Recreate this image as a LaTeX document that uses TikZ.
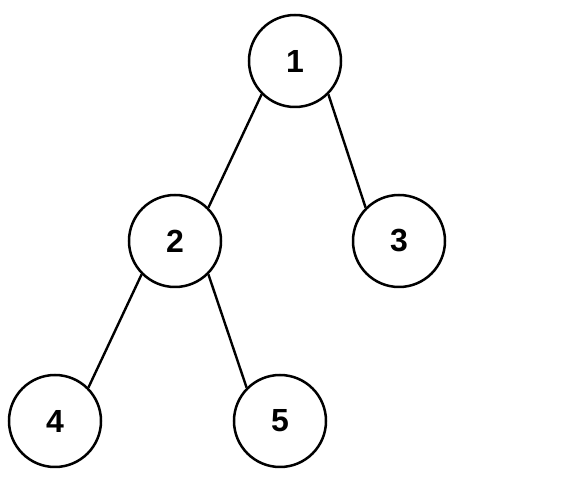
\documentclass[tikz,border=0pt]{standalone}
\usepackage{fontspec}
\setmainfont{Liberation Sans}
\begin{document}
\begin{tikzpicture}[x=1pt,y=1pt,
  treenode/.style={circle,draw=black,line width=2.5pt,minimum size=92pt,inner sep=0pt,
    font=\fontsize{32}{38}\selectfont\bfseries},
  edge/.style={draw=black,line width=2.4pt}]
\useasboundingbox (0,0) rectangle (574,485);
\node[treenode] (n1) at (295,424) {1};
\node[treenode] (n2) at (175,244) {2};
\node[treenode] (n3) at (399,244) {3};
\node[treenode] (n4) at (55,64) {4};
\node[treenode] (n5) at (280,64) {5};
\draw[edge] (n1.225) -- (n2.45);
\draw[edge] (n1.315) -- (n3.135);
\draw[edge] (n2.225) -- (n4.45);
\draw[edge] (n2.315) -- (n5.135);
\end{tikzpicture}
\end{document}
